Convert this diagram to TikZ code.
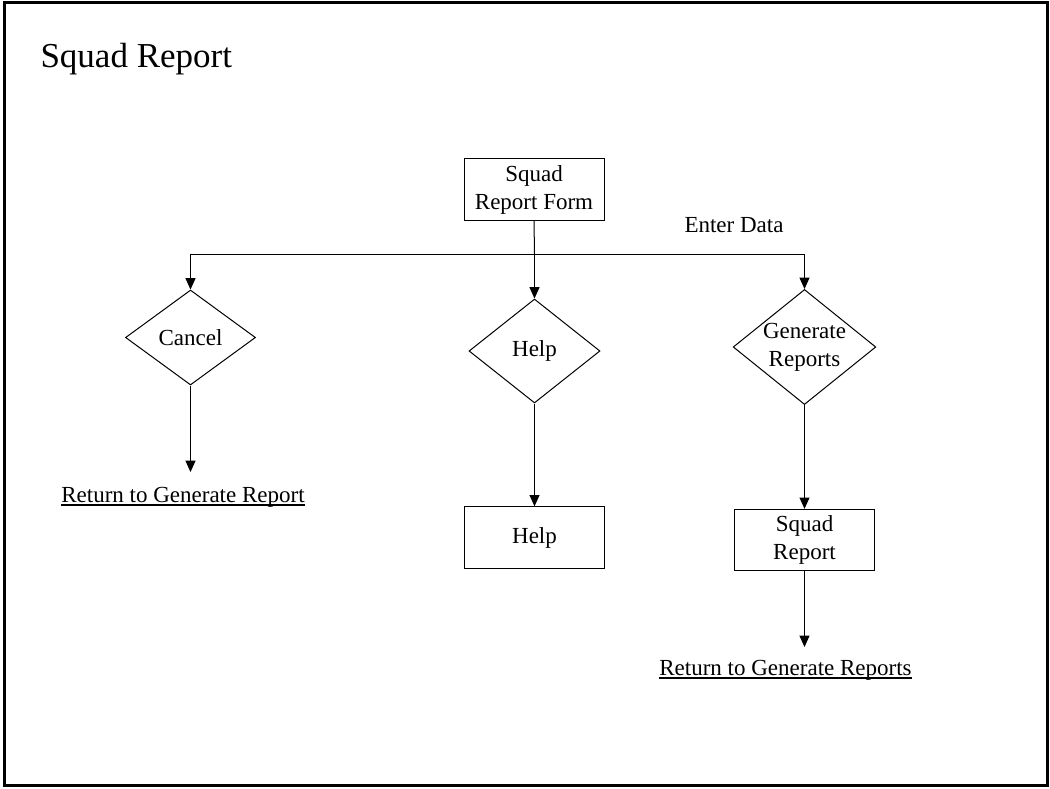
\documentclass[tikz,border=0pt]{standalone}
\usepackage{fontspec}
\setmainfont{Liberation Serif}
\usetikzlibrary{shapes.geometric,arrows.meta}

\begin{document}
\begin{tikzpicture}[x=0.75pt,y=-0.75pt,line width=0.75pt,
    font=\fontsize{17.25}{21}\selectfont]

      \useasboundingbox (0,0) rectangle (1050,789);
      \draw[line width=2.25pt] (4.5,2) rectangle (1047.5,785.5);

      \node[anchor=base west, inner sep=0pt, font=\fontsize{26.25}{30}\selectfont] (title) at (40,67) {Squad Report};

      \begin{scope}[every node/.style={draw, align=center, inner sep=0pt, minimum width=105pt, minimum height=46pt}]
        \node (form)    at (534,189.5)   {Squad\\Report Form};
        \node (helpbox) at (534.5,537.5) {Help};
        \node (report)  at (804.5,540)   {Squad\\Report};
      \end{scope}

      \begin{scope}[every node/.style={diamond, draw, align=center, inner sep=0pt}]
        \node[minimum width=97.5pt, minimum height=71.25pt] (cancel) at (190.5,337.5) {Cancel};
        \node[minimum width=98.25pt, minimum height=78pt]   (help)   at (534.5,351)   {Help};
        \node[minimum width=104.25pt, minimum height=84pt, aspect=1.24] (gen) at (804.5,347) {Generate\\Reports};
      \end{scope}

      \begin{scope}[every node/.style={anchor=base, inner sep=0pt}]
        \node (enter) at (734,232)   {Enter Data};
        \node (ret1)  at (183,502)   {Return to Generate Report};
        \node (ret2)  at (785.5,675) {Return to Generate Reports};
      \end{scope}

      % underlines of the two links
      \draw[line width=1.3pt] ([yshift=-2.5pt]ret1.base west) -- ([yshift=-2.5pt]ret1.base east);
      \draw[line width=1.3pt] ([yshift=-2.5pt]ret2.base west) -- ([yshift=-2.5pt]ret2.base east);

      \coordinate (bus)  at (534,254);
      \coordinate (busL) at (cancel.north |- bus);
      \coordinate (busM) at (help.north |- bus);
      \coordinate (busR) at (gen.north |- bus);
      \coordinate (end1) at (190.5,472);
      \coordinate (end2) at (804.5,647);

      \draw (form.south) -- (busM);
      \draw (busL) -- (busR);

      \begin{scope}[every edge/.style={draw, -{Triangle[width=7.5pt, length=8.5pt]}}]
        \path (busL)         edge (cancel.north);
        \path (busM)         edge (help.north);
        \path (busR)         edge (gen.north);
        \path (cancel.south) edge (end1);
        \path (help)         edge (helpbox);
        \path (gen)          edge (report);
        \path (report.south) edge (end2);
      \end{scope}

    \end{tikzpicture}
\end{document}
